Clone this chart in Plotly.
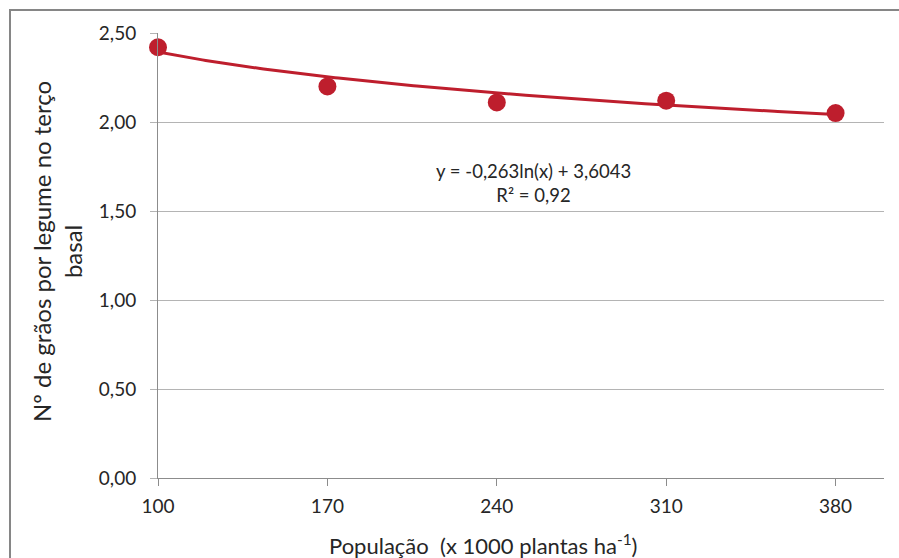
import numpy as np
import plotly.graph_objects as go

# Data
populacao = [100, 170, 240, 310, 380]
graos = [2.42, 2.20, 2.11, 2.12, 2.05]
x_ticks = [100, 170, 240, 310, 380]
y_ticks = [0.0, 0.5, 1.0, 1.5, 2.0, 2.5]

# Trendline coefficients shown on the chart: y = a*ln(x) + b
coef_a = -0.263
coef_b = 3.6043
eq_text = "y = -0,263ln(x) + 3,6043<br>R² = 0,92"

red = "#BE1E2D"
font_family = "Lato, 'Open Sans', sans-serif"
txt = "#262626"

xt = np.linspace(min(populacao), max(populacao), 200)
yt = coef_a * np.log(xt) + coef_b

fig = go.Figure()
fig.add_trace(go.Scatter(x=xt, y=yt, mode="lines",
                         line=dict(color=red, width=3), hoverinfo="skip",
                         showlegend=False, cliponaxis=False))
fig.add_trace(go.Scatter(x=populacao, y=graos, mode="markers",
                         marker=dict(color=red, size=18), showlegend=False,
                         cliponaxis=False))

# layout geometry (pixels)
W, H = 899, 558
L, R, T, B = 158, 15, 33, 80
pw, ph = W - L - R, H - T - B

def px(xp):
    return (xp - L) / pw

def py(yp):
    return 1 - (yp - T) / ph

fig.update_layout(
    width=W, height=H,
    margin=dict(l=L, r=R, t=T, b=B),
    paper_bgcolor="white", plot_bgcolor="white",
    separators=",.",
    font=dict(family=font_family, color=txt, size=18),
    xaxis=dict(range=[100, 400], tickvals=x_ticks, showgrid=False,
               showline=True, linecolor="#8C8C8C", linewidth=1,
               ticks="outside", ticklen=7, tickcolor="#8C8C8C",
               ticklabelstandoff=4,
               tickfont=dict(size=19, color=txt), zeroline=False),
    yaxis=dict(range=[0, 2.5], tickvals=y_ticks, tickformat=".2f",
               showgrid=True, gridcolor="#B4B4B4", gridwidth=1,
               showline=True, linecolor="#8C8C8C", linewidth=1,
               ticks="outside", ticklen=7, tickcolor="#B4B4B4",
               ticklabelstandoff=10,
               tickfont=dict(size=19, color=txt), zeroline=False),
    shapes=[dict(type="rect", xref="paper", yref="paper",
                 x0=px(10), x1=px(W + 10), y0=py(H + 10), y1=py(10),
                 line=dict(color="#868686", width=2), layer="below")],
    annotations=[
        dict(text=eq_text, xref="paper", yref="paper", x=px(533), y=py(183),
             xanchor="center", yanchor="middle",
             showarrow=False, font=dict(size=18.5, color=txt), align="center"),
        dict(text="Nº de grãos por legume no terço<br>basal", textangle=-90,
             xref="paper", yref="paper", x=px(57), y=py(252),
             xanchor="center", yanchor="middle",
             showarrow=False, font=dict(size=24, color=txt), align="center"),
        dict(text="População  (x 1000 plantas ha<sup>-1</sup>)",
             xref="paper", yref="paper", x=px(483), y=py(544),
             xanchor="center", yanchor="middle",
             showarrow=False, font=dict(size=22, color=txt)),
    ],
)

fig.write_html("out.html")
